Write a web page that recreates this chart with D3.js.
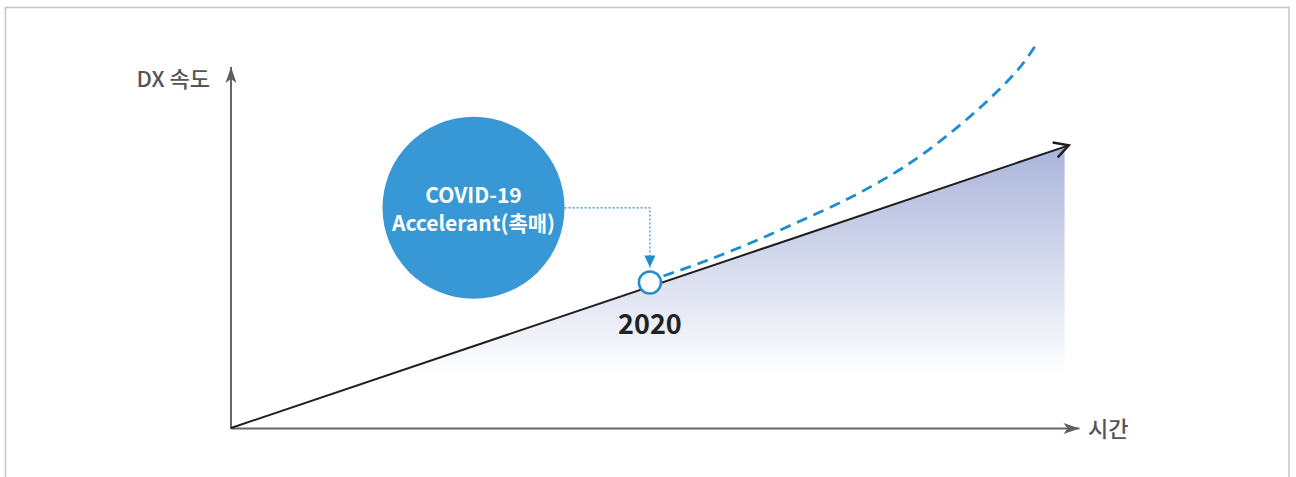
<!DOCTYPE html>
<html>
<head>
<meta charset="utf-8">
<script src="https://cdn.jsdelivr.net/npm/d3@7"></script>
<style>
  html, body { margin: 0; padding: 0; background: #fff; }
  svg { display: block; }
  text { font-family: "Noto Sans CJK KR", "Noto Sans", sans-serif; }
</style>
</head>
<body>
<svg id="chart" width="1296" height="477"></svg>
<script>
// ---- data (abstract units: time 0..100, DX speed 0..100) ----
const baseT = [0, 98.8];          // linear trend line
const baseV = [0, 78.3];
const areaT = [0, 98.3];          // shaded area under trend
const areaV = [0, 77.9];
const accelT = [51.0, 56.0, 61.2, 67.0, 73.0, 78.0, 81.6, 85.6, 89.5, 93.0, 95.0];   // accelerated (dashed) path
const accelV = [42.1, 46.3, 51.2, 57.2, 63.8, 70.3, 75.9, 83.2, 91.3, 99.8, 106.4];
const markerT = [49.4];           // 2020 point
const markerV = [40.3];
const markerLabels = ["2020"];
const bubbleT = [28.6];           // annotation bubble
const bubbleV = [61.0];
const bubbleLines = ["COVID-19", "Accelerant(촉매)"];
const yAxisLabel = "DX 속도";
const xAxisLabel = "시간";

const svg = d3.select("#chart");

// frame
svg.append("rect").attr("x", 5.5).attr("y", 7.5).attr("width", 1283.5).attr("height", 480)
  .attr("fill", "none").attr("stroke", "#c4c4c4").attr("stroke-width", 1.5);

const x = d3.scaleLinear().domain([0, 100]).range([231, 1079]);
const y = d3.scaleLinear().domain([0, 100]).range([428, 67]);

const defs = svg.append("defs");
const grad = defs.append("linearGradient").attr("id", "areaGrad")
  .attr("gradientUnits", "userSpaceOnUse")
  .attr("x1", 0).attr("x2", 0).attr("y1", y(areaV[1])).attr("y2", 376);
grad.append("stop").attr("offset", 0).attr("stop-color", "#a9b4db");
grad.append("stop").attr("offset", 1).attr("stop-color", "#ffffff");

defs.append("marker").attr("id", "axisArrow")
  .attr("markerUnits", "userSpaceOnUse").attr("markerWidth", 20).attr("markerHeight", 20)
  .attr("viewBox", "-18 -8 20 16").attr("refX", 0).attr("refY", 0).attr("orient", "auto")
  .append("path").attr("d", "M0,0 L-16,-5.5 L-12,0 L-16,5.5 Z").attr("fill", "#5f5f5f");

defs.append("marker").attr("id", "lineArrow")
  .attr("markerUnits", "userSpaceOnUse").attr("markerWidth", 24).attr("markerHeight", 24)
  .attr("viewBox", "-16 -10 20 20").attr("refX", 0).attr("refY", 0).attr("orient", "auto")
  .append("path").attr("d", "M-12,-6.5 L0,0 L-12,6.5").attr("fill", "none")
  .attr("stroke", "#1e1e1e").attr("stroke-width", 2);

defs.append("marker").attr("id", "dotArrow")
  .attr("markerUnits", "userSpaceOnUse").attr("markerWidth", 16).attr("markerHeight", 16)
  .attr("viewBox", "-14 -7 16 14").attr("refX", 0).attr("refY", 0).attr("orient", "auto")
  .append("path").attr("d", "M0,0 L-12,-5.5 L-12,5.5 Z").attr("fill", "#1f8dcc");

// area
const areaData = areaT.map((t, i) => ({ t, v: areaV[i] }));
svg.append("path").datum(areaData)
  .attr("d", d3.area().x(d => x(d.t)).y0(y(0)).y1(d => y(d.v)))
  .attr("fill", "url(#areaGrad)");

// axes (domain lines only)
const xAxisG = svg.append("g").attr("transform", `translate(0,${y(0)})`)
  .call(d3.axisBottom(x).ticks(0).tickSizeOuter(0));
xAxisG.select(".domain").attr("stroke", "#666").attr("stroke-width", 2)
  .attr("marker-end", "url(#axisArrow)");
const yAxisG = svg.append("g").attr("transform", `translate(${x(0)},0)`)
  .call(d3.axisLeft(y).ticks(0).tickSizeOuter(0));
yAxisG.select(".domain").attr("stroke", "#666").attr("stroke-width", 2)
  .attr("d", `M0,${y(0) + 1}V${y(100)}`)
  .attr("marker-end", "url(#axisArrow)");

// trend line
const baseData = baseT.map((t, i) => ({ t, v: baseV[i] }));
svg.append("path").datum(baseData)
  .attr("d", d3.line().x(d => x(d.t)).y(d => y(d.v)))
  .attr("fill", "none").attr("stroke", "#1e1e1e").attr("stroke-width", 2)
  .attr("marker-end", "url(#lineArrow)");

// accelerated dashed curve
const accelData = accelT.map((t, i) => ({ t, v: accelV[i] }));
svg.append("path").datum(accelData)
  .attr("d", d3.line().x(d => x(d.t)).y(d => y(d.v)).curve(d3.curveCatmullRom))
  .attr("fill", "none").attr("stroke", "#1b8ecf").attr("stroke-width", 2.8)
  .attr("stroke-dasharray", "11,7");

// bubble
const bx = x(bubbleT[0]), by = y(bubbleV[0]), br = 91;
svg.append("circle").attr("cx", bx).attr("cy", by).attr("r", br).attr("fill", "#3898d5");
svg.append("text").attr("x", bx).attr("y", by - 5).attr("text-anchor", "middle")
  .attr("fill", "#fff").attr("font-weight", 700).attr("font-size", 21)
  .text(bubbleLines[0]);
svg.append("text").attr("x", bx).attr("y", by + 23).attr("text-anchor", "middle")
  .attr("fill", "#fff").attr("font-weight", 700).attr("font-size", 21)
  .text(bubbleLines[1]);

// dotted connector
const mx = x(markerT[0]), my = y(markerV[0]);
svg.append("path")
  .attr("d", `M${bx + br},${by}H${mx}V${my - 15}`)
  .attr("fill", "none").attr("stroke", "#1f8dcc").attr("stroke-width", 1.2)
  .attr("stroke-dasharray", "2,2")
  .attr("marker-end", "url(#dotArrow)");

// 2020 marker
svg.append("circle").attr("cx", mx).attr("cy", my).attr("r", 11)
  .attr("fill", "#fff").attr("stroke", "#1f8dcc").attr("stroke-width", 2.5);
svg.append("text").attr("x", mx).attr("y", my + 51).attr("text-anchor", "middle")
  .attr("fill", "#222").attr("font-weight", 700).attr("font-size", 27)
  .text(markerLabels[0]);

// axis labels
svg.append("text").attr("x", x(0) - 21).attr("y", y(100) + 20).attr("text-anchor", "end")
  .attr("fill", "#555").attr("font-size", 22).attr("font-weight", 500).text(yAxisLabel);
svg.append("text").attr("x", x(100) + 9).attr("y", y(0) + 9).attr("text-anchor", "start")
  .attr("fill", "#555").attr("font-size", 22).attr("font-weight", 500).text(xAxisLabel);
</script>
</body>
</html>
